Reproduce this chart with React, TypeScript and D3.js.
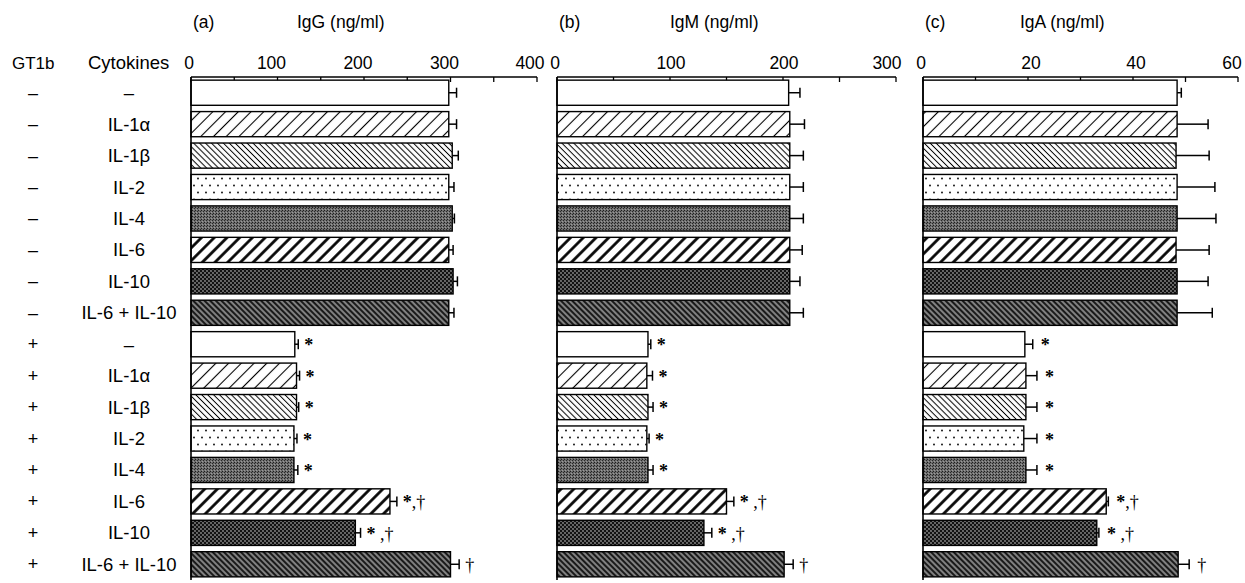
import React from "react";
import * as d3 from "d3";

// ---------- data ----------
const gt1b = ["–", "–", "–", "–", "–", "–", "–", "–", "+", "+", "+", "+", "+", "+", "+", "+"];
const cytokines = [
  "–", "IL-1α", "IL-1β", "IL-2", "IL-4", "IL-6", "IL-10", "IL-6 + IL-10",
  "–", "IL-1α", "IL-1β", "IL-2", "IL-4", "IL-6", "IL-10", "IL-6 + IL-10",
];

const igG = [298, 298, 302, 298, 302, 298, 303, 298, 120, 122, 122, 119, 119, 230, 190, 300];
const igGErr = [9, 9, 7, 6, 2.5, 5, 5, 6, 4, 3.5, 2.5, 3.5, 4.5, 8, 6, 10];
const igGNote = ["", "", "", "", "", "", "", "", "*", "*", "*", "*", "*", "*,†", "* ,†", "†"];

const igM = [205, 206, 206, 206, 206, 206, 206, 206, 80.5, 79.5, 80.5, 79.5, 80.5, 150, 130, 201];
const igMErr = [10, 13, 12, 12, 12, 11, 9, 12, 2.5, 5, 4.5, 2, 4.5, 6.5, 7, 8];
const igMNote = ["", "", "", "", "", "", "", "", "*", "*", "*", "*", "*", "* ,†", "* ,†", "†"];

const igA = [48.4, 48.4, 48.2, 48.4, 48.4, 48.2, 48.4, 48.4, 19.4, 19.6, 19.6, 19.2, 19.6, 34.9, 33.1, 48.6];
const igAErr = [0.8, 5.9, 6.3, 7.2, 7.4, 6.3, 5.9, 6.7, 1.5, 2.1, 2.1, 2.5, 2.1, 0.4, 0.4, 2.1];
const igANote = ["", "", "", "", "", "", "", "", "*", "*", "*", "*", "*", "*,†", "* ,†", "†"];

const panelLetters = ["(a)", "(b)", "(c)"];
const panelTitles = ["IgG (ng/ml)", "IgM (ng/ml)", "IgA (ng/ml)"];
const axisMax = [400, 300, 60];
const labelStep = [100, 100, 20];
const minorStep = [50, 50, 10];

// ---------- layout ----------
const W = 1245;
const H = 583;
const axisY = 77;
const bottomY = 580;
const panelRanges: [number, number][] = [
  [191, 537],
  [557, 896],
  [923, 1238],
];
const titleOffsets = [106, 113, 97];
const labelShift = [-6, 1, 3];
const lastLabelShift = [-7, -9, -6];
const noteGap = [6, 6, 8];

const sans = "'Liberation Sans', Arial, Helvetica, sans-serif";
const serif = "'Liberation Serif', 'Times New Roman', serif";

const patternIds = ["none", "p1", "p2", "p3", "p4", "p5", "p6", "p7"];

function Patterns() {
  return (
    <defs>
      <pattern id="p1" patternUnits="userSpaceOnUse" width={9} height={9} patternTransform="rotate(45)">
        <rect width={9} height={9} fill="#fff" />
        <line x1={4.5} y1={0} x2={4.5} y2={9} stroke="#000" strokeWidth={1.1} />
      </pattern>
      <pattern id="p2" patternUnits="userSpaceOnUse" width={4.2} height={4.2} patternTransform="rotate(-45)">
        <rect width={4.2} height={4.2} fill="#fff" />
        <line x1={2.1} y1={0} x2={2.1} y2={4.2} stroke="#000" strokeWidth={1.0} />
      </pattern>
      <pattern id="p3" patternUnits="userSpaceOnUse" width={8} height={14}>
        <rect width={8} height={14} fill="#fff" />
        <circle cx={2} cy={3.5} r={0.9} fill="#000" />
        <circle cx={6} cy={10.5} r={0.9} fill="#000" />
      </pattern>
      <pattern id="p4" patternUnits="userSpaceOnUse" width={3} height={3}>
        <rect width={3} height={3} fill="#6e6e6e" />
        <rect x={0} y={0} width={1} height={1} fill="#1e1e1e" />
        <rect x={2} y={1} width={1} height={1} fill="#2a2a2a" />
        <rect x={1} y={2} width={1} height={1} fill="#9a9a9a" />
      </pattern>
      <pattern id="p5" patternUnits="userSpaceOnUse" width={9} height={9} patternTransform="rotate(45)">
        <rect width={9} height={9} fill="#fff" />
        <line x1={4.5} y1={0} x2={4.5} y2={9} stroke="#000" strokeWidth={2.7} />
      </pattern>
      <pattern id="p6" patternUnits="userSpaceOnUse" width={4} height={4}>
        <rect width={4} height={4} fill="#121212" />
        <circle cx={1} cy={1} r={0.65} fill="#fff" />
        <circle cx={3} cy={3} r={0.65} fill="#fff" />
      </pattern>
      <pattern id="p7" patternUnits="userSpaceOnUse" width={4} height={4} patternTransform="rotate(-45)">
        <rect width={4} height={4} fill="#1a1a1a" />
        <line x1={2} y1={0} x2={2} y2={4} stroke="#fff" strokeWidth={0.9} />
      </pattern>
    </defs>
  );
}

function Note({ x, y, text }: { x: number; y: number; text: string }) {
  return (
    <text x={x} y={y} fontFamily={serif} fontSize={18}>
      {text.split("").map((c, k) => (
        <tspan key={k} fontWeight={c === "*" ? "bold" : "normal"}>
          {c}
        </tspan>
      ))}
    </text>
  );
}

export default function App() {
  const rows = d3.range(cytokines.length);
  const y = d3
    .scaleBand<number>()
    .domain(rows)
    .range([axisY, bottomY])
    .paddingInner(0.2)
    .paddingOuter(0.1);
  const bw = y.bandwidth();

  const panels = [
    { values: igG, errs: igGErr, notes: igGNote },
    { values: igM, errs: igMErr, notes: igMNote },
    { values: igA, errs: igAErr, notes: igANote },
  ];

  return (
    <svg
      width={W}
      height={H}
      style={{ position: "absolute", left: 0, top: 0, background: "#fff" }}
    >
      <Patterns />
      <rect width={W} height={H} fill="#fff" />

      {/* left headers */}
      <text x={12} y={69} fontFamily={sans} fontSize={17}>GT1b</text>
      <text x={88} y={69} fontFamily={sans} fontSize={18.5}>Cytokines</text>
      {rows.map((i) => {
        const cy = (y(i) as number) + bw / 2;
        return (
          <g key={"lab" + i}>
            <text x={33} y={cy} fontFamily={sans} fontSize={18} textAnchor="middle" dominantBaseline="central">
              {gt1b[i]}
            </text>
            <text x={129} y={cy} fontFamily={sans} fontSize={18.5} textAnchor="middle" dominantBaseline="central">
              {cytokines[i]}
            </text>
          </g>
        );
      })}

      {panels.map((p, pi) => {
        const x = d3.scaleLinear().domain([0, axisMax[pi]]).range(panelRanges[pi]);
        const labelTicks = d3.range(0, axisMax[pi] + 0.001, labelStep[pi]);
        const minorTicks = d3.range(0, axisMax[pi] + 0.001, minorStep[pi]);
        const x0 = x(0);
        return (
          <g key={"panel" + pi}>
            <text x={x0 + 2} y={28} fontFamily={sans} fontSize={17.5}>{panelLetters[pi]}</text>
            <text x={x0 + titleOffsets[pi]} y={28} fontFamily={sans} fontSize={17.5}>{panelTitles[pi]}</text>

            {labelTicks.map((t, k) => {
              const last = k === labelTicks.length - 1;
              const dx = last ? lastLabelShift[pi] : k === 0 ? -2 : labelShift[pi];
              return (
                <text key={"tl" + t} x={x(t) + dx} y={69} fontFamily={sans} fontSize={17.5} textAnchor="middle">
                  {t}
                </text>
              );
            })}
            {minorTicks.map((t) => (
              <line key={"tk" + t} x1={x(t)} x2={x(t)} y1={axisY} y2={axisY + 5} stroke="#000" strokeWidth={1.3} />
            ))}

            {rows.map((i) => {
              const top = y(i) as number;
              const cy = top + bw / 2;
              const v = p.values[i];
              const e = p.errs[i];
              const xe = x(v + e);
              const pat = patternIds[i % 8];
              return (
                <g key={"bar" + i}>
                  <rect
                    x={x0}
                    y={top}
                    width={x(v) - x0}
                    height={bw}
                    fill={pat === "none" ? "#fff" : `url(#${pat})`}
                    stroke="#000"
                    strokeWidth={1.4}
                  />
                  <line x1={x(v)} x2={xe} y1={cy} y2={cy} stroke="#000" strokeWidth={1.5} />
                  <line x1={xe} x2={xe} y1={cy - 5} y2={cy + 5} stroke="#000" strokeWidth={1.5} />
                  {p.notes[i] && <Note x={xe + noteGap[pi]} y={cy + 7} text={p.notes[i]} />}
                </g>
              );
            })}

            <line x1={x0} x2={x(axisMax[pi])} y1={axisY} y2={axisY} stroke="#000" strokeWidth={1.6} />
            <line x1={x0} x2={x0} y1={axisY} y2={bottomY} stroke="#000" strokeWidth={1.6} />
          </g>
        );
      })}
    </svg>
  );
}
